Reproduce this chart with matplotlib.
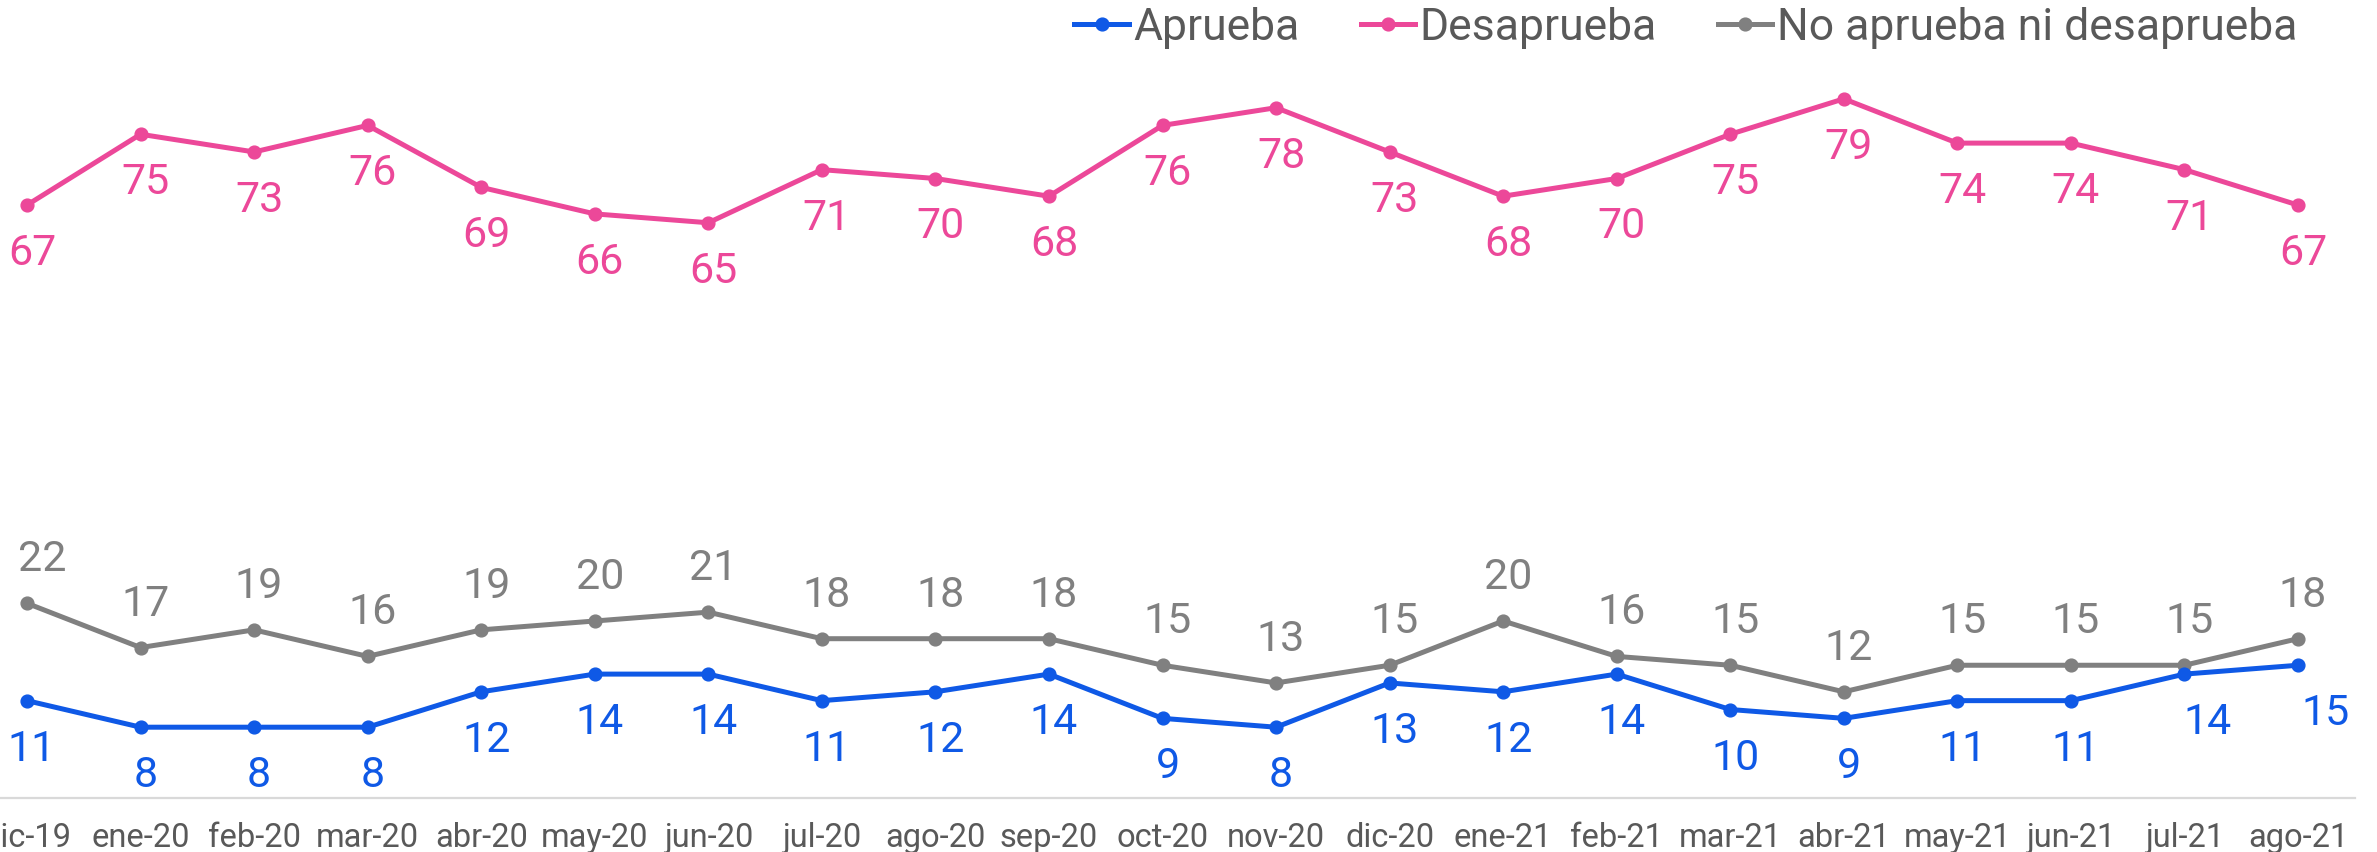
import matplotlib
matplotlib.use("Agg")
import matplotlib.pyplot as plt
from matplotlib.lines import Line2D

# Monthly survey results (%)
months = ["dic-19", "ene-20", "feb-20", "mar-20", "abr-20", "may-20", "jun-20",
          "jul-20", "ago-20", "sep-20", "oct-20", "nov-20", "dic-20", "ene-21",
          "feb-21", "mar-21", "abr-21", "may-21", "jun-21", "jul-21", "ago-21"]
aprueba = [11, 8, 8, 8, 12, 14, 14, 11, 12, 14, 9, 8, 13, 12, 14, 10, 9, 11, 11, 14, 15]
desaprueba = [67, 75, 73, 76, 69, 66, 65, 71, 70, 68, 76, 78, 73, 68, 70, 75, 79, 74, 74, 71, 67]
ninguno = [22, 17, 19, 16, 19, 20, 21, 18, 18, 18, 15, 13, 15, 20, 16, 15, 12, 15, 15, 15, 18]

series_names = ["Aprueba", "Desaprueba", "No aprueba ni desaprueba"]

BLUE = "#0F59E6"
PINK = "#EC4899"
GRAY = "#808080"
TEXT = "#595959"

plt.rcParams["font.family"] = ["Roboto", "DejaVu Sans"]

W, H = 2377, 852
fig = plt.figure(figsize=(W / 100, H / 100), dpi=100)
fig.patch.set_facecolor("white")

# axes placed so category slots run slightly past both figure edges
slot = (2298 - 27) / 20.0
left_px = 27 - slot / 2
right_px = 2298 + slot / 2
bottom_px = 798
ax = fig.add_axes([left_px / W, (H - bottom_px) / H,
                   (right_px - left_px) / W, (90 * 8.85) / H])
ax.set_xlim(-0.5, len(months) - 0.5)
ax.set_ylim(0, 90)

x = list(range(len(months)))
line_kw = dict(linewidth=3.6, marker="o", markersize=9.2, solid_capstyle="round",
               solid_joinstyle="round", clip_on=False, zorder=3)
ax.plot(x, ninguno, color=GRAY, **line_kw)
ax.plot(x, aprueba, color=BLUE, **line_kw)
ax.plot(x, desaprueba, color=PINK, **line_kw)

# value labels: pink and blue below, gray above
px2pt = 0.72
dx_default = 5
dx_gray = {0: 10}
dx_blue = {19: 18, 20: 23}
below = -60 * px2pt
above = 32 * px2pt

for i, v in enumerate(desaprueba):
    ax.annotate(str(v), (i, v), xytext=(dx_default * px2pt, below),
                textcoords="offset points", ha="center", va="baseline",
                fontsize=31, color=PINK, annotation_clip=False)
for i, v in enumerate(aprueba):
    ax.annotate(str(v), (i, v),
                xytext=((dx_default + dx_blue.get(i, 0)) * px2pt, below),
                textcoords="offset points", ha="center", va="baseline",
                fontsize=31, color=BLUE, annotation_clip=False)
for i, v in enumerate(ninguno):
    ax.annotate(str(v), (i, v),
                xytext=((dx_default + dx_gray.get(i, 0)) * px2pt, above),
                textcoords="offset points", ha="center", va="baseline",
                fontsize=31, color=GRAY, annotation_clip=False)

# axes styling
for side in ["top", "right", "left"]:
    ax.spines[side].set_visible(False)
ax.spines["bottom"].set_color("#D9D9D9")
ax.spines["bottom"].set_linewidth(1.6)
ax.set_yticks([])
ax.set_xticks(x)
ax.set_xticklabels(months, fontsize=23.5, color=TEXT)
ax.tick_params(axis="x", length=0, pad=17)
ax.set_facecolor("none")

handles = [
    Line2D([], [], color=BLUE, linewidth=3.6, marker="o", markersize=9.2),
    Line2D([], [], color=PINK, linewidth=3.6, marker="o", markersize=9.2),
    Line2D([], [], color=GRAY, linewidth=3.6, marker="o", markersize=9.2),
]
leg = fig.legend(handles, series_names, loc="center right",
                 bbox_to_anchor=(2297 / W, 1 - 28 / H), ncol=3, frameon=False,
                 fontsize=32, handlelength=1.22, handletextpad=0.1,
                 columnspacing=1.38, borderaxespad=0, borderpad=0, numpoints=1)
for t in leg.get_texts():
    t.set_color(TEXT)

fig.savefig("out.png", dpi=100, facecolor="white")
